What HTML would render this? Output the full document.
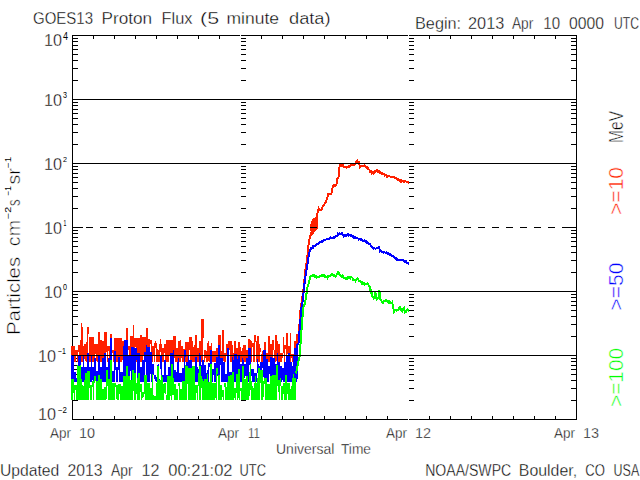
<!DOCTYPE html>
<html><head><meta charset="utf-8"><style>
html,body{margin:0;padding:0;background:#fff;width:640px;height:480px;overflow:hidden}
svg{display:block}
text{font-family:"Liberation Sans",sans-serif;stroke:#fff;stroke-width:0.35px;paint-order:normal}
text.sm{stroke:none}
text.lg{stroke-width:0.5px}
</style></head><body>
<svg width="640" height="480" viewBox="0 0 640 480">
<rect width="640" height="480" fill="#fff"/>
<g fill="none" stroke="#000" stroke-width="1" shape-rendering="crispEdges">
<path d="M72.5 35.5H576.5V419.5H72.5ZM72 400.5h6M577 400.5h-6M241 400.5h5M409 400.5h5M72 388.5h6M577 388.5h-6M241 388.5h5M409 388.5h5M72 380.5h6M577 380.5h-6M241 380.5h5M409 380.5h5M72 374.5h6M577 374.5h-6M241 374.5h5M409 374.5h5M72 369.5h6M577 369.5h-6M241 369.5h5M409 369.5h5M72 365.5h6M577 365.5h-6M241 365.5h5M409 365.5h5M72 361.5h6M577 361.5h-6M241 361.5h5M409 361.5h5M72 358.5h6M577 358.5h-6M241 358.5h5M409 358.5h5M72 336.5h6M577 336.5h-6M241 336.5h5M409 336.5h5M72 324.5h6M577 324.5h-6M241 324.5h5M409 324.5h5M72 316.5h6M577 316.5h-6M241 316.5h5M409 316.5h5M72 310.5h6M577 310.5h-6M241 310.5h5M409 310.5h5M72 305.5h6M577 305.5h-6M241 305.5h5M409 305.5h5M72 301.5h6M577 301.5h-6M241 301.5h5M409 301.5h5M72 297.5h6M577 297.5h-6M241 297.5h5M409 297.5h5M72 294.5h6M577 294.5h-6M241 294.5h5M409 294.5h5M72 272.5h6M577 272.5h-6M241 272.5h5M409 272.5h5M72 260.5h6M577 260.5h-6M241 260.5h5M409 260.5h5M72 252.5h6M577 252.5h-6M241 252.5h5M409 252.5h5M72 246.5h6M577 246.5h-6M241 246.5h5M409 246.5h5M72 241.5h6M577 241.5h-6M241 241.5h5M409 241.5h5M72 237.5h6M577 237.5h-6M241 237.5h5M409 237.5h5M72 233.5h6M577 233.5h-6M241 233.5h5M409 233.5h5M72 230.5h6M577 230.5h-6M241 230.5h5M409 230.5h5M72 208.5h6M577 208.5h-6M241 208.5h5M409 208.5h5M72 196.5h6M577 196.5h-6M241 196.5h5M409 196.5h5M72 188.5h6M577 188.5h-6M241 188.5h5M409 188.5h5M72 182.5h6M577 182.5h-6M241 182.5h5M409 182.5h5M72 177.5h6M577 177.5h-6M241 177.5h5M409 177.5h5M72 173.5h6M577 173.5h-6M241 173.5h5M409 173.5h5M72 169.5h6M577 169.5h-6M241 169.5h5M409 169.5h5M72 166.5h6M577 166.5h-6M241 166.5h5M409 166.5h5M72 144.5h6M577 144.5h-6M241 144.5h5M409 144.5h5M72 132.5h6M577 132.5h-6M241 132.5h5M409 132.5h5M72 124.5h6M577 124.5h-6M241 124.5h5M409 124.5h5M72 118.5h6M577 118.5h-6M241 118.5h5M409 118.5h5M72 113.5h6M577 113.5h-6M241 113.5h5M409 113.5h5M72 109.5h6M577 109.5h-6M241 109.5h5M409 109.5h5M72 105.5h6M577 105.5h-6M241 105.5h5M409 105.5h5M72 102.5h6M577 102.5h-6M241 102.5h5M409 102.5h5M72 80.5h6M577 80.5h-6M241 80.5h5M409 80.5h5M72 68.5h6M577 68.5h-6M241 68.5h5M409 68.5h5M72 60.5h6M577 60.5h-6M241 60.5h5M409 60.5h5M72 54.5h6M577 54.5h-6M241 54.5h5M409 54.5h5M72 49.5h6M577 49.5h-6M241 49.5h5M409 49.5h5M72 45.5h6M577 45.5h-6M241 45.5h5M409 45.5h5M72 41.5h6M577 41.5h-6M241 41.5h5M409 41.5h5M72 38.5h6M577 38.5h-6M241 38.5h5M409 38.5h5M72 227.5h11M577 227.5h-11M241 227.5h10M409 227.5h10M93.5 36v3M93.5 419v-3M114.5 36v3M114.5 419v-3M135.5 36v3M135.5 419v-3M156.5 36v3M156.5 419v-3M177.5 36v3M177.5 419v-3M198.5 36v3M198.5 419v-3M219.5 36v3M219.5 419v-3M261.5 36v3M261.5 419v-3M282.5 36v3M282.5 419v-3M303.5 36v3M303.5 419v-3M324.5 36v3M324.5 419v-3M345.5 36v3M345.5 419v-3M366.5 36v3M366.5 419v-3M387.5 36v3M387.5 419v-3M429.5 36v3M429.5 419v-3M450.5 36v3M450.5 419v-3M471.5 36v3M471.5 419v-3M492.5 36v3M492.5 419v-3M513.5 36v3M513.5 419v-3M534.5 36v3M534.5 419v-3M555.5 36v3M555.5 419v-3"/>
</g>
<g stroke="#fff" stroke-width="1" shape-rendering="crispEdges"><path d="M240.5 35v1M240.5 419v1M408.5 35v1M408.5 419v1"/></g>
<g fill="none" shape-rendering="crispEdges">
<path stroke="#ff2000" stroke-width="1" d="M71.5 346.0V358.0M72.5 346.0V362.0M73.5 346.0V359.4M74.5 346.0V362.0M75.5 350.0V362.0M76.5 350.0V356.1M77.5 350.0V362.0M78.5 345.0V351.6M79.5 345.0V362.0M80.5 340.0V362.0M81.5 323.0V362.0M82.5 326.7V362.0M83.5 345.7V361.4M84.5 344.0V359.4M85.5 344.0V361.0M86.5 342.0V362.0M87.5 327.0V362.0M88.5 327.0V334.2M89.5 337.0V362.0M90.5 337.0V362.0M91.5 337.0V361.4M92.5 337.0V362.0M93.5 337.0V362.0M94.5 344.0V362.0M95.5 344.0V354.4M96.5 344.0V360.9M97.5 344.0V362.0M98.5 332.0V362.0M99.5 332.0V362.0M100.5 340.0V362.0M101.5 340.0V362.0M102.5 340.6V362.0M103.5 340.6V362.0M104.5 332.0V362.0M105.5 332.0V362.0M106.5 332.0V352.4M107.5 346.0V362.0M108.5 346.0V351.4M109.5 346.0V362.0M110.5 334.0V362.0M111.5 334.0V362.0M112.5 350.0V353.3M113.5 350.0V362.0M114.5 338.0V362.0M115.5 338.0V362.0M116.5 338.0V362.0M117.5 338.0V362.0M118.5 338.0V362.0M119.5 338.0V362.0M120.5 338.0V362.0M121.5 338.0V362.0M122.5 341.0V359.9M123.5 341.0V346.2M124.5 341.0V362.0M125.5 341.0V362.0M126.5 328.0V341.2M127.5 328.0V362.0M128.5 346.0V350.1M129.5 346.0V362.0M130.5 336.0V362.0M131.5 336.0V362.0M132.5 336.0V362.0M133.5 325.0V362.0M134.5 338.0V362.0M135.5 338.0V346.6M136.5 338.0V362.0M137.5 338.0V362.0M138.5 338.0V362.0M139.5 338.0V362.0M140.5 335.0V362.0M141.5 335.0V362.0M142.5 337.0V362.0M143.5 337.0V355.6M144.5 337.0V353.7M145.5 337.0V362.0M146.5 328.0V362.0M147.5 328.0V362.0M148.5 339.0V362.0M149.5 339.0V362.0M150.5 339.6V344.3M151.5 339.6V362.0M152.5 345.5V362.0M153.5 345.5V355.9M154.5 343.0V362.0M155.5 341.0V347.8M156.5 343.3V362.0M157.5 349.0V362.0M158.5 350.4V362.0M159.5 343.7V362.0M160.5 339.0V352.0M161.5 344.0V358.6M162.5 347.6V362.0M163.5 347.6V362.0M164.5 344.0V353.2M165.5 344.0V362.0M166.5 340.0V362.0M167.5 340.0V362.0M168.5 340.0V362.0M169.5 340.0V354.9M170.5 340.0V362.0M171.5 340.0V362.0M172.5 340.0V362.0M173.5 336.0V362.0M174.5 336.0V358.1M175.5 336.0V362.0M176.5 347.5V362.0M177.5 347.5V362.0M178.5 340.5V358.8M179.5 340.5V362.0M180.5 340.0V362.0M181.5 346.0V357.5M182.5 346.0V362.0M183.5 349.0V362.0M184.5 349.0V352.3M185.5 342.0V362.0M186.5 342.0V362.0M187.5 342.0V362.0M188.5 342.0V362.0M189.5 337.0V349.5M190.5 337.0V362.0M191.5 337.0V362.0M192.5 340.5V362.0M193.5 347.3V362.0M194.5 345.0V362.0M195.5 335.0V362.0M196.5 335.0V362.0M197.5 347.5V362.0M198.5 347.5V362.0M199.5 340.6V360.6M200.5 340.6V362.0M201.5 319.0V362.0M202.5 319.0V362.0M203.5 319.0V337.5M204.5 350.0V362.0M205.5 350.0V357.8M206.5 351.0V362.0M207.5 342.5V362.0M208.5 340.6V361.2M209.5 346.0V362.0M210.5 346.0V362.0M211.5 342.5V362.0M212.5 351.0V362.0M213.5 351.0V362.0M214.5 351.0V362.0M215.5 351.0V362.0M216.5 348.3V357.6M217.5 348.3V362.0M218.5 335.0V362.0M219.5 335.0V362.0M220.5 335.0V362.0M221.5 351.0V362.0M222.5 329.7V362.0M223.5 329.7V361.0M224.5 353.4V362.0M225.5 353.4V362.0M226.5 343.7V356.2M227.5 343.7V362.0M228.5 340.6V354.1M229.5 340.6V350.0M230.5 340.6V362.0M231.5 340.6V362.0M232.5 345.4V362.0M233.5 352.6V362.0M234.5 341.2V362.0M235.5 341.2V362.0M236.5 347.5V362.0M237.5 347.5V362.0M238.5 342.0V362.0M239.5 342.0V355.3M240.5 347.1V362.0M241.5 351.1V362.0M242.5 347.7V362.0M243.5 345.3V362.0M244.5 345.0V362.0M245.5 345.0V362.0M246.5 350.0V362.0M247.5 350.0V362.0M248.5 339.4V362.0M249.5 339.4V362.0M250.5 339.8V362.0M251.5 341.4V362.0M252.5 342.6V347.0M253.5 342.6V362.0M254.5 335.0V362.0M255.5 335.0V342.2M256.5 341.0V362.0M257.5 336.0V362.0M258.5 336.0V362.0M259.5 344.0V362.0M260.5 348.2V351.6M261.5 353.5V362.0M262.5 351.0V362.0M263.5 351.0V359.5M264.5 342.0V359.6M265.5 342.0V362.0M266.5 352.5V362.0M267.5 352.5V360.4M268.5 336.0V362.0M269.5 336.0V362.0M270.5 344.0V362.0M271.5 344.0V362.0M272.5 340.0V362.0M273.5 340.0V350.4M274.5 350.0V362.0M275.5 335.0V362.0M276.5 335.0V360.5M277.5 341.0V362.0M278.5 344.0V362.0M279.5 344.0V362.0M280.5 352.5V362.0M281.5 352.5V362.0M282.5 352.5V357.7M283.5 337.0V352.6M284.5 345.0V362.0M285.5 345.0V348.8M286.5 333.0V362.0M287.5 333.0V354.0M288.5 346.0V361.1M289.5 346.0V362.0M290.5 332.5V362.0M291.5 354.0V357.5M292.5 354.0V362.0M293.5 354.0V362.0M294.5 341.0V362.0M295.5 341.0V362.0M296.5 334.0V362.0M297.5 334.0V362.0"/>
<path stroke="#ff2000" stroke-width="2" d="M298.33 339.99 298.92 332.57 299.50 324.35 300.08 315.71 300.67 308.30 301.25 304.32 301.83 300.60 302.42 296.80 303.00 292.16 303.58 288.15 304.17 282.84 304.75 275.43 305.33 270.74 305.92 266.45 306.50 263.37 307.08 259.39 307.67 253.06 308.25 247.45 308.83 242.95 309.42 239.55 310.00 237.00 310.58 234.98 310.80 234.00 317.00 217.00 317.00 228.00 311.00 235.00 316.50 217.00 317.00 215.39 317.58 212.88 318.17 209.88 318.75 208.17 319.33 208.97 319.92 209.71 320.50 210.49 321.08 210.49 321.67 209.24 322.25 207.57 322.83 206.44 323.42 205.18 324.00 204.90 324.58 203.60 325.17 202.81 325.75 201.94 326.33 200.63 326.92 198.81 327.50 197.42 328.08 194.08 328.67 193.75 329.25 193.74 329.83 194.35 330.42 194.15 331.00 194.23 331.58 192.50 332.17 189.54 332.75 187.13 333.33 185.59 333.92 185.21 334.50 185.56 335.08 185.21 335.67 185.66 336.25 185.16 336.83 182.04 337.42 178.69 338.00 178.20 338.58 176.78 339.17 169.28 339.75 165.44 340.33 165.02 340.92 164.84 341.50 164.60 342.08 165.94 342.67 166.37 343.25 165.70 343.83 166.97 344.42 167.36 345.00 167.45 345.58 167.45 346.17 167.29 346.75 167.80 347.33 167.11 347.92 167.48 348.50 166.42 349.08 166.72 349.67 166.31 350.25 165.26 350.83 164.97 351.42 165.46 352.00 165.35 352.58 165.18 353.17 164.97 353.75 165.28 354.33 165.37 354.92 163.73 355.50 163.87 356.08 162.08 356.67 162.09 357.25 160.86 357.83 162.06 358.42 162.00 359.00 162.01 359.58 164.94 360.17 167.13 360.75 166.77 361.33 166.11 361.92 165.70 362.50 165.85 363.08 166.22 363.67 165.88 364.25 165.20 364.83 166.33 365.42 166.29 366.00 167.03 366.58 166.69 367.17 168.14 367.75 167.85 368.33 169.31 368.92 169.38 369.50 169.92 370.08 171.44 370.67 170.97 371.25 172.15 371.83 173.22 372.42 172.46 373.00 172.29 373.58 173.12 374.17 172.29 374.75 172.33 375.33 171.00 375.92 171.09 376.50 170.46 377.08 170.89 377.67 170.44 378.25 172.03 378.83 171.10 379.42 172.45 380.00 171.83 380.58 172.40 381.17 173.42 381.75 172.75 382.33 173.03 382.92 173.98 383.50 173.95 384.08 173.88 384.67 175.62 385.25 174.87 385.83 175.12 386.42 175.97 387.00 176.76 387.58 176.94 388.17 176.06 388.75 176.37 389.33 175.94 389.92 176.53 390.50 176.97 391.08 176.94 391.67 177.16 392.25 176.96 392.83 177.11 393.42 177.11 394.00 177.10 394.58 177.07 395.17 177.99 395.75 177.83 396.33 177.88 396.92 178.70 397.50 179.65 398.08 178.95 398.67 179.93 399.25 180.01 399.83 180.52 400.42 180.22 401.00 181.52 401.58 180.71 402.17 181.36 402.75 181.26 403.33 180.86 403.92 181.78 404.50 181.36 405.08 181.38 405.67 181.38 406.25 181.60 406.83 181.54 407.42 182.32 408.00 182.18 408.58 182.88 409.17 182.84"/>
<path d="M310 226L312 219L316.5 217L317 229L311 235Z" fill="#ff2000"/>
<path stroke="#0000ff" stroke-width="1" d="M71.5 354.5V382.0M72.5 354.8V382.0M73.5 354.8V382.0M74.5 371.6V382.0M75.5 371.6V382.0M76.5 377.6V382.0M77.5 377.6V382.0M78.5 355.8V382.0M79.5 355.8V382.0M80.5 355.8V379.5M81.5 367.0V382.0M82.5 367.0V382.0M83.5 354.5V382.0M84.5 367.0V382.0M85.5 367.0V382.0M86.5 367.0V382.0M87.5 353.0V382.0M88.5 353.0V382.0M89.5 367.0V382.0M90.5 367.0V382.0M91.5 354.5V382.0M92.5 367.0V379.9M93.5 367.0V382.0M94.5 357.6V382.0M95.5 357.6V380.5M96.5 370.8V382.0M97.5 370.8V382.0M98.5 355.8V382.0M99.5 355.8V382.0M100.5 367.0V382.0M101.5 367.0V382.0M102.5 358.0V382.0M103.5 358.0V382.0M104.5 352.6V382.0M105.5 352.6V381.9M106.5 367.0V382.0M107.5 367.0V382.0M108.5 358.0V382.0M109.5 358.0V382.0M110.5 337.6V378.1M111.5 337.6V382.0M112.5 370.8V382.0M113.5 370.8V382.0M114.5 350.8V382.0M115.5 350.8V370.1M116.5 367.0V382.0M117.5 367.0V382.0M118.5 357.0V370.0M119.5 357.0V382.0M120.5 372.0V382.0M121.5 372.0V382.0M122.5 372.0V382.0M123.5 345.8V382.0M124.5 340.0V382.0M125.5 340.0V382.0M126.5 340.0V382.0M127.5 340.0V382.0M128.5 355.8V382.0M129.5 355.8V382.0M130.5 355.8V371.3M131.5 347.0V382.0M132.5 347.0V382.0M133.5 347.0V382.0M134.5 347.6V382.0M135.5 347.6V381.1M136.5 347.6V359.8M137.5 353.0V382.0M138.5 353.0V382.0M139.5 353.0V382.0M140.5 366.5V382.0M141.5 366.5V382.0M142.5 359.5V382.0M143.5 359.5V382.0M144.5 351.8V382.0M145.5 351.8V362.2M146.5 345.0V382.0M147.5 347.0V382.0M148.5 347.0V382.0M149.5 347.0V382.0M150.5 351.5V373.6M151.5 351.5V382.0M152.5 364.1V382.0M153.5 364.1V374.8M154.5 375.1V379.4M155.5 375.1V380.8M156.5 377.0V382.0M157.5 365.2V382.0M158.5 364.0V372.5M159.5 378.7V382.0M160.5 356.1V368.9M161.5 356.1V382.0M162.5 374.5V382.0M163.5 374.5V382.0M164.5 360.1V382.0M165.5 360.1V382.0M166.5 375.1V382.0M167.5 375.1V382.0M168.5 366.6V382.0M169.5 366.6V382.0M170.5 353.1V382.0M171.5 353.1V382.0M172.5 353.1V382.0M173.5 349.7V382.0M174.5 370.1V382.0M175.5 370.1V382.0M176.5 372.2V382.0M177.5 362.2V382.0M178.5 357.9V382.0M179.5 372.9V382.0M180.5 372.9V382.0M181.5 372.9V382.0M182.5 367.9V381.4M183.5 367.9V382.0M184.5 349.7V382.0M185.5 349.7V357.2M186.5 361.6V382.0M187.5 361.6V382.0M188.5 355.1V382.0M189.5 360.1V382.0M190.5 360.1V382.0M191.5 360.1V382.0M192.5 369.1V382.0M193.5 369.1V382.0M194.5 369.1V382.0M195.5 356.6V382.0M196.5 357.3V382.0M197.5 367.0V382.0M198.5 368.9V376.3M199.5 353.1V382.0M200.5 355.8V382.0M201.5 365.1V382.0M202.5 360.1V382.0M203.5 360.1V382.0M204.5 365.1V382.0M205.5 365.1V382.0M206.5 372.7V382.0M207.5 370.0V382.0M208.5 362.6V382.0M209.5 362.6V367.1M210.5 349.7V382.0M211.5 349.7V368.2M212.5 369.1V382.0M213.5 369.1V375.3M214.5 362.9V382.0M215.5 362.9V382.0M216.5 356.6V382.0M217.5 356.6V375.5M218.5 345.1V382.0M219.5 345.1V382.0M220.5 358.0V365.4M221.5 358.0V382.0M222.5 357.9V382.0M223.5 361.6V382.0M224.5 361.6V382.0M225.5 374.1V381.5M226.5 374.1V382.0M227.5 347.9V382.0M228.5 347.9V382.0M229.5 371.6V382.0M230.5 371.6V382.0M231.5 371.6V382.0M232.5 356.6V382.0M233.5 360.1V382.0M234.5 354.1V382.0M235.5 354.1V382.0M236.5 354.1V382.0M237.5 359.1V382.0M238.5 355.1V382.0M239.5 355.1V382.0M240.5 364.4V382.0M241.5 364.4V382.0M242.5 358.1V382.0M243.5 360.1V382.0M244.5 364.4V378.3M245.5 364.4V376.4M246.5 358.1V382.0M247.5 358.1V375.8M248.5 348.1V382.0M249.5 348.1V364.5M250.5 348.1V382.0M251.5 369.1V376.4M252.5 369.1V382.0M253.5 369.1V382.0M254.5 373.1V382.0M255.5 373.1V377.8M256.5 373.1V382.0M257.5 359.1V372.7M258.5 364.0V382.0M259.5 365.9V382.0M260.5 361.6V382.0M261.5 361.6V382.0M262.5 361.6V367.5M263.5 350.1V377.4M264.5 350.1V382.0M265.5 350.1V382.0M266.5 359.1V382.0M267.5 359.1V382.0M268.5 366.4V382.0M269.5 366.4V373.9M270.5 356.6V380.0M271.5 356.6V382.0M272.5 358.1V382.0M273.5 358.1V382.0M274.5 358.1V382.0M275.5 364.1V382.0M276.5 364.1V382.0M277.5 353.1V382.0M278.5 361.7V382.0M279.5 361.7V382.0M280.5 365.8V382.0M281.5 365.8V382.0M282.5 367.8V379.9M283.5 367.8V382.0M284.5 361.6V382.0M285.5 361.6V382.0M286.5 354.7V382.0M287.5 354.7V382.0M288.5 353.1V382.0M289.5 353.1V382.0M290.5 361.6V382.0M291.5 361.6V382.0M292.5 366.1V382.0M293.5 355.8V382.0M294.5 348.1V379.1M295.5 348.1V382.0M296.5 344.1V382.0M297.5 344.1V378.8"/>
<path stroke="#0000ff" stroke-width="2" d="M298.33 345.47 298.92 338.61 299.50 331.08 300.08 324.12 300.67 316.86 301.25 308.79 301.83 304.97 302.42 302.37 303.00 297.81 303.58 292.02 304.17 286.91 304.75 281.30 305.33 277.79 305.92 273.26 306.50 270.08 307.08 266.21 307.67 263.39 308.25 259.87 308.83 254.52 309.42 252.06 310.00 250.04 310.58 248.61 311.17 248.99 311.75 248.18 312.33 247.19 312.92 246.34 313.50 247.03 314.08 246.00 314.67 245.86 315.25 245.65 315.83 245.09 316.42 245.05 317.00 243.99 317.58 244.24 318.17 243.41 318.75 243.77 319.33 243.37 319.92 241.92 320.50 241.61 321.08 241.36 321.67 242.04 322.25 240.94 322.83 240.84 323.42 240.11 324.00 240.19 324.58 239.81 325.17 239.55 325.75 239.67 326.33 239.41 326.92 239.58 327.50 239.00 328.08 239.07 328.67 238.69 329.25 238.60 329.83 237.94 330.42 237.23 331.00 238.20 331.58 238.35 332.17 238.27 332.75 237.72 333.33 237.75 333.92 236.87 334.50 237.56 335.08 237.02 335.67 236.44 336.25 235.70 336.83 236.29 337.42 235.97 338.00 234.20 338.58 234.69 339.17 233.77 339.75 233.41 340.33 233.61 340.92 234.28 341.50 234.42 342.08 233.46 342.67 234.87 343.25 234.69 343.83 236.07 344.42 235.37 345.00 235.99 345.58 235.98 346.17 235.16 346.75 235.70 347.33 234.58 347.92 234.32 348.50 235.21 349.08 234.57 349.67 234.96 350.25 235.41 350.83 235.86 351.42 235.44 352.00 235.62 352.58 237.11 353.17 236.67 353.75 237.91 354.33 238.16 354.92 237.47 355.50 237.51 356.08 237.57 356.67 238.02 357.25 238.23 357.83 238.45 358.42 238.82 359.00 239.54 359.58 239.21 360.17 239.37 360.75 239.99 361.33 239.53 361.92 239.83 362.50 240.99 363.08 240.57 363.67 240.82 364.25 240.29 364.83 241.07 365.42 241.62 366.00 241.21 366.58 242.41 367.17 242.80 367.75 242.37 368.33 243.53 368.92 243.67 369.50 244.34 370.08 244.31 370.67 245.65 371.25 246.53 371.83 246.37 372.42 247.26 373.00 248.35 373.58 248.88 374.17 248.01 374.75 248.42 375.33 248.74 375.92 248.48 376.50 248.24 377.08 247.80 377.67 247.51 378.25 247.45 378.83 246.96 379.42 248.75 380.00 250.98 380.58 250.27 381.17 251.37 381.75 251.93 382.33 251.67 382.92 251.88 383.50 253.03 384.08 252.41 384.67 252.37 385.25 252.76 385.83 253.17 386.42 252.37 387.00 252.72 387.58 252.82 388.17 253.90 388.75 253.73 389.33 254.69 389.92 254.11 390.50 254.72 391.08 255.54 391.67 256.25 392.25 256.02 392.83 256.12 393.42 256.41 394.00 257.42 394.58 257.38 395.17 258.68 395.75 259.16 396.33 258.68 396.92 259.25 397.50 260.43 398.08 260.20 398.67 260.43 399.25 259.78 399.83 259.48 400.42 259.71 401.00 260.41 401.58 259.68 402.17 259.78 402.75 260.01 403.33 260.30 403.92 260.58 404.50 261.59 405.08 260.81 405.67 260.89 406.25 262.50 406.83 262.70 407.42 263.14 408.00 262.66 408.58 263.67 409.17 263.93"/>
<path stroke="#00ff00" stroke-width="1" d="M71.5 378.8V400.0M72.5 378.8V400.0M73.5 378.8V393.0M74.5 385.0V400.0M75.5 385.0V390.4M76.5 385.0V400.0M77.5 365.0V400.0M78.5 366.2V400.0M79.5 366.2V400.0M80.5 365.0V400.0M81.5 378.8V400.0M82.5 385.1V400.0M83.5 386.0V400.0M84.5 380.0V400.0M85.5 372.5V400.0M86.5 372.5V400.0M87.5 371.0V400.0M88.5 371.0V400.0M89.5 371.0V387.5M90.5 385.0V400.0M91.5 385.0V400.0M92.5 381.0V387.4M93.5 381.0V400.0M94.5 376.0V382.7M95.5 376.0V381.2M96.5 381.3V400.0M97.5 380.5V400.0M98.5 375.0V400.0M99.5 375.0V400.0M100.5 378.8V400.0M101.5 378.8V400.0M102.5 388.5V400.0M103.5 388.5V400.0M104.5 387.1V400.0M105.5 387.1V400.0M106.5 370.0V399.4M107.5 370.0V385.6M108.5 379.4V400.0M109.5 379.4V400.0M110.5 360.0V400.0M111.5 360.0V400.0M112.5 382.5V400.0M113.5 382.5V400.0M114.5 382.5V400.0M115.5 382.5V387.0M116.5 385.0V399.2M117.5 385.0V400.0M118.5 384.4V400.0M119.5 384.4V394.3M120.5 383.8V400.0M121.5 386.0V400.0M122.5 386.0V400.0M123.5 376.0V400.0M124.5 376.0V400.0M125.5 376.0V400.0M126.5 366.0V400.0M127.5 366.0V400.0M128.5 376.0V400.0M129.5 376.0V400.0M130.5 379.8V400.0M131.5 379.8V400.0M132.5 370.0V400.0M133.5 370.0V390.9M134.5 372.5V400.0M135.5 372.5V400.0M136.5 382.6V393.9M137.5 377.9V400.0M138.5 372.6V400.0M139.5 372.6V400.0M140.5 383.8V391.9M141.5 383.8V400.0M142.5 391.5V398.0M143.5 391.5V396.5M144.5 375.0V393.9M145.5 375.0V400.0M146.5 375.0V400.0M147.5 382.5V400.0M148.5 382.5V400.0M149.5 382.5V400.0M150.5 388.3V400.0M151.5 388.3V400.0M152.5 373.8V400.0M153.5 395.0V400.0M154.5 395.5V400.0M155.5 395.5V400.0M156.5 382.5V400.0M157.5 365.6V400.0M158.5 365.6V400.0M159.5 380.0V400.0M160.5 380.0V400.0M161.5 375.0V400.0M162.5 377.1V400.0M163.5 383.9V400.0M164.5 382.5V392.5M165.5 382.5V393.9M166.5 395.0V400.0M167.5 376.0V400.0M168.5 376.0V400.0M169.5 376.0V400.0M170.5 376.0V396.2M171.5 363.8V400.0M172.5 363.8V395.1M173.5 377.5V395.2M174.5 383.8V400.0M175.5 383.8V400.0M176.5 389.3V400.0M177.5 388.5V399.8M178.5 382.5V386.2M179.5 382.5V400.0M180.5 389.1V400.0M181.5 389.1V400.0M182.5 381.0V400.0M183.5 381.0V400.0M184.5 381.0V400.0M185.5 365.0V400.0M186.5 366.3V400.0M187.5 366.3V384.0M188.5 367.5V400.0M189.5 367.5V400.0M190.5 367.5V400.0M191.5 367.5V400.0M192.5 365.6V400.0M193.5 365.6V400.0M194.5 365.6V400.0M195.5 385.0V400.0M196.5 385.0V392.6M197.5 385.0V400.0M198.5 372.5V386.4M199.5 365.6V400.0M200.5 365.6V400.0M201.5 376.0V388.4M202.5 378.9V400.0M203.5 381.3V400.0M204.5 378.8V400.0M205.5 378.8V400.0M206.5 378.8V400.0M207.5 373.8V400.0M208.5 382.0V400.0M209.5 382.0V400.0M210.5 364.0V400.0M211.5 364.0V400.0M212.5 382.5V400.0M213.5 382.5V400.0M214.5 382.5V400.0M215.5 382.5V397.8M216.5 367.5V400.0M217.5 367.5V374.1M218.5 375.0V400.0M219.5 375.0V400.0M220.5 385.0V400.0M221.5 385.0V400.0M222.5 390.3V396.9M223.5 390.3V400.0M224.5 382.5V386.9M225.5 382.5V400.0M226.5 386.7V400.0M227.5 381.9V400.0M228.5 376.0V400.0M229.5 376.0V400.0M230.5 374.9V400.0M231.5 374.9V400.0M232.5 371.7V400.0M233.5 371.7V400.0M234.5 387.9V398.0M235.5 387.9V400.0M236.5 374.0V393.4M237.5 374.0V400.0M238.5 369.0V398.0M239.5 369.0V400.0M240.5 388.0V391.4M241.5 388.0V400.0M242.5 366.0V400.0M243.5 366.0V400.0M244.5 379.0V400.0M245.5 379.0V400.0M246.5 376.0V400.0M247.5 376.0V400.0M248.5 382.8V400.0M249.5 372.2V395.9M250.5 364.3V390.1M251.5 380.7V399.6M252.5 385.5V400.0M253.5 387.8V400.0M254.5 382.5V400.0M255.5 376.0V400.0M256.5 383.3V400.0M257.5 377.5V400.0M258.5 367.5V400.0M259.5 367.5V400.0M260.5 370.0V383.4M261.5 370.0V400.0M262.5 370.0V400.0M263.5 381.0V397.0M264.5 377.5V384.3M265.5 377.5V400.0M266.5 377.5V400.0M267.5 384.0V400.0M268.5 384.0V400.0M269.5 384.0V400.0M270.5 376.0V400.0M271.5 376.0V400.0M272.5 375.0V400.0M273.5 375.0V400.0M274.5 375.0V400.0M275.5 375.0V400.0M276.5 365.0V400.0M277.5 365.0V385.8M278.5 380.0V391.9M279.5 380.0V400.0M280.5 377.5V386.3M281.5 386.0V400.0M282.5 386.0V400.0M283.5 382.5V393.7M284.5 382.8V400.0M285.5 375.4V400.0M286.5 375.0V400.0M287.5 382.5V393.9M288.5 382.5V400.0M289.5 382.5V400.0M290.5 388.6V400.0M291.5 385.5V400.0M292.5 377.5V400.0M293.5 374.0V400.0M294.5 378.3V400.0M295.5 378.3V400.0"/>
<path stroke="#00ff00" stroke-width="2" d="M296.00 373.58 296.58 370.45 297.17 368.00 297.75 364.70 298.33 361.64 298.92 359.26 299.50 357.17 300.08 350.05 300.67 342.22 301.25 333.59 301.83 326.32 302.42 318.14 303.00 310.21 303.58 306.95 304.17 304.93 304.75 303.88 305.33 301.53 305.92 298.05 306.50 293.56 307.08 288.75 307.67 286.50 308.25 284.63 308.83 282.55 309.42 280.48 310.00 277.61 310.58 275.87 311.17 276.24 311.75 275.87 312.33 275.14 312.92 274.65 313.50 275.36 314.08 274.98 314.67 276.56 315.25 276.68 315.83 276.41 316.42 276.25 317.00 277.45 317.58 277.09 318.17 277.43 318.75 277.21 319.33 276.50 319.92 276.19 320.50 276.32 321.08 275.89 321.67 275.29 322.25 275.36 322.83 276.19 323.42 275.13 324.00 275.29 324.58 276.39 325.17 276.00 325.75 276.57 326.33 276.63 326.92 276.59 327.50 277.80 328.08 276.21 328.67 276.25 329.25 275.61 329.83 276.00 330.42 275.13 331.00 274.95 331.58 275.27 332.17 274.29 332.75 274.75 333.33 275.91 333.92 275.23 334.50 275.78 335.08 276.46 335.67 276.54 336.25 275.52 336.83 274.14 337.42 273.51 338.00 272.48 338.58 273.52 339.17 273.44 339.75 275.07 340.33 275.80 340.92 276.19 341.50 276.14 342.08 276.79 342.67 275.58 343.25 276.31 343.83 277.73 344.42 278.01 345.00 278.01 345.58 279.44 346.17 279.51 346.75 279.15 347.33 277.42 347.92 277.01 348.50 277.41 349.08 276.92 349.67 277.31 350.25 278.24 350.83 277.23 351.42 277.04 352.00 277.55 352.58 278.20 353.17 279.63 353.75 279.41 354.33 279.75 354.92 279.89 355.50 280.91 356.08 279.48 356.67 278.59 357.25 278.31 357.83 278.91 358.42 279.71 359.00 281.13 359.58 280.90 360.17 281.25 360.75 282.26 361.33 282.16 361.92 283.64 362.50 282.53 363.08 283.47 363.67 284.15 364.25 283.68 364.83 284.70 365.42 283.97 366.00 283.68 366.58 284.04 367.17 283.53 367.75 284.24 368.33 284.31 368.92 285.87 369.50 286.32 370.08 287.06 370.67 292.00 371.25 291.11 371.83 293.25 372.42 296.67 373.00 296.90 373.58 298.12 374.17 297.15 374.75 297.20 375.33 291.35 375.92 296.27 376.50 298.78 377.08 297.84 377.67 298.64 378.25 298.25 378.83 298.47 379.42 290.06 380.00 298.74 380.58 298.97 381.17 300.04 381.75 301.97 382.33 302.89 382.92 302.81 383.50 301.35 384.08 301.35 384.67 301.06 385.25 300.29 385.83 300.05 386.42 299.91 387.00 300.77 387.58 301.48 388.17 301.47 388.75 303.18 389.33 303.31 389.92 301.97 390.50 303.49 391.08 303.55 391.67 303.16 392.25 302.24 392.83 305.77 393.42 308.27 394.00 311.68 394.58 311.05 395.17 309.92 395.75 309.93 396.33 310.53 396.92 310.27 397.50 310.39 398.08 310.10 398.67 308.38 399.25 307.46 399.83 308.34 400.42 307.45 401.00 309.85 401.58 309.66 402.17 311.11 402.75 309.70 403.33 308.48 403.92 307.79 404.50 311.17 405.08 312.38 405.67 312.14 406.25 310.60 406.83 310.51 407.42 309.33 408.00 309.64 408.58 310.82 409.17 311.12"/>
</g>
<g fill="none" stroke="#000" stroke-width="1" shape-rendering="crispEdges">
<path d="M72 99.5H577M72 163.5H577M72 291.5H577M72 355.5H577"/>
<path d="M72 227.5h7M86 227.5h7M100 227.5h7M114 227.5h7M128 227.5h7M142 227.5h7M156 227.5h7M170 227.5h7M184 227.5h7M198 227.5h7M212 227.5h7M226 227.5h7M240 227.5h7M254 227.5h7M268 227.5h7M282 227.5h7M296 227.5h7M310 227.5h7M324 227.5h7M338 227.5h7M352 227.5h7M366 227.5h7M380 227.5h7M394 227.5h7M408 227.5h7M422 227.5h7M436 227.5h7M450 227.5h7M464 227.5h7M478 227.5h7M492 227.5h7M506 227.5h7M520 227.5h7M534 227.5h7M548 227.5h7M562 227.5h7"/>
</g>
<text x="33.00" y="24.00" font-size="16.76" textLength="60.00" lengthAdjust="spacingAndGlyphs">GOES13</text>
<text x="101.50" y="24.00" font-size="16.76" textLength="50.58" lengthAdjust="spacingAndGlyphs">Proton</text>
<text x="161.50" y="24.00" font-size="16.76" textLength="31.03" lengthAdjust="spacingAndGlyphs">Flux</text>
<text x="200.00" y="24.00" font-size="16.76" textLength="19.06" lengthAdjust="spacingAndGlyphs">(5</text>
<text x="226.50" y="24.00" font-size="16.76" textLength="52.52" lengthAdjust="spacingAndGlyphs">minute</text>
<text x="289.00" y="24.00" font-size="16.76" textLength="41.53" lengthAdjust="spacingAndGlyphs">data)</text>
<text x="415.00" y="29.00" font-size="15.75" textLength="46.10" lengthAdjust="spacingAndGlyphs">Begin:</text>
<text x="468.00" y="29.00" font-size="15.75" textLength="36.27" lengthAdjust="spacingAndGlyphs">2013</text>
<text x="512.00" y="29.00" font-size="15.75" textLength="21.28" lengthAdjust="spacingAndGlyphs">Apr</text>
<text x="543.25" y="29.00" font-size="15.75" textLength="16.79" lengthAdjust="spacingAndGlyphs">10</text>
<text x="569.00" y="29.00" font-size="15.75" textLength="35.00" lengthAdjust="spacingAndGlyphs">0000</text>
<text x="614.00" y="29.00" font-size="15.75" textLength="25.00" lengthAdjust="spacingAndGlyphs">UTC</text>
<text x="0.00" y="476.00" font-size="16.76" textLength="59.30" lengthAdjust="spacingAndGlyphs">Updated</text>
<text x="67.50" y="476.00" font-size="16.76" textLength="35.09" lengthAdjust="spacingAndGlyphs">2013</text>
<text x="111.00" y="476.00" font-size="16.76" textLength="21.53" lengthAdjust="spacingAndGlyphs">Apr</text>
<text x="141.50" y="476.00" font-size="16.76" textLength="17.97" lengthAdjust="spacingAndGlyphs">12</text>
<text x="168.25" y="476.00" font-size="16.76" textLength="64.26" lengthAdjust="spacingAndGlyphs">00:21:02</text>
<text x="239.50" y="476.00" font-size="16.76" textLength="26.55" lengthAdjust="spacingAndGlyphs">UTC</text>
<text x="425.20" y="476.00" font-size="16.76" textLength="86.02" lengthAdjust="spacingAndGlyphs">NOAA/SWPC</text>
<text x="518.80" y="476.00" font-size="16.76" textLength="58.26" lengthAdjust="spacingAndGlyphs">Boulder,</text>
<text x="585.20" y="476.00" font-size="16.76" textLength="19.71" lengthAdjust="spacingAndGlyphs">CO</text>
<text x="613.60" y="476.00" font-size="16.76" textLength="25.66" lengthAdjust="spacingAndGlyphs">USA</text>
<text x="50.00" y="438.00" font-size="13.97" textLength="21.00" lengthAdjust="spacingAndGlyphs">Apr</text>
<text x="79.00" y="438.00" font-size="13.97" textLength="16.07" lengthAdjust="spacingAndGlyphs">10</text>
<text x="218.00" y="438.00" font-size="13.97" textLength="21.00" lengthAdjust="spacingAndGlyphs">Apr</text>
<text x="248.00" y="438.00" font-size="13.97" textLength="12.00" lengthAdjust="spacingAndGlyphs">11</text>
<text x="386.00" y="438.00" font-size="13.97" textLength="21.00" lengthAdjust="spacingAndGlyphs">Apr</text>
<text x="415.00" y="438.00" font-size="13.97" textLength="16.07" lengthAdjust="spacingAndGlyphs">12</text>
<text x="554.00" y="438.00" font-size="13.97" textLength="21.00" lengthAdjust="spacingAndGlyphs">Apr</text>
<text x="583.00" y="438.00" font-size="13.97" textLength="16.07" lengthAdjust="spacingAndGlyphs">13</text>
<text x="276.00" y="454.00" font-size="14.39" textLength="58.31" lengthAdjust="spacingAndGlyphs">Universal</text>
<text x="341.00" y="454.00" font-size="14.39" textLength="30.00" lengthAdjust="spacingAndGlyphs">Time</text>
<text x="44.00" y="46.00" font-size="16.76" textLength="18.06" lengthAdjust="spacingAndGlyphs">10</text>
<text x="63.00" y="40.00" font-size="10.40" textLength="5.00" lengthAdjust="spacingAndGlyphs" class="sm">4</text>
<text x="44.00" y="106.00" font-size="16.76" textLength="18.06" lengthAdjust="spacingAndGlyphs">10</text>
<text x="63.00" y="98.00" font-size="8.38" textLength="4.00" lengthAdjust="spacingAndGlyphs" class="sm">3</text>
<text x="44.00" y="170.00" font-size="16.76" textLength="18.06" lengthAdjust="spacingAndGlyphs">10</text>
<text x="63.00" y="162.00" font-size="6.98" textLength="4.00" lengthAdjust="spacingAndGlyphs" class="sm">2</text>
<text x="44.00" y="234.00" font-size="16.76" textLength="18.06" lengthAdjust="spacingAndGlyphs">10</text>
<text x="63.50" y="226.00" font-size="8.38" textLength="2.83" lengthAdjust="spacingAndGlyphs" class="sm">1</text>
<text x="44.00" y="298.00" font-size="16.76" textLength="18.06" lengthAdjust="spacingAndGlyphs">10</text>
<text x="63.00" y="290.00" font-size="8.38" textLength="4.00" lengthAdjust="spacingAndGlyphs" class="sm">0</text>
<text x="38.00" y="362.00" font-size="16.76" textLength="18.06" lengthAdjust="spacingAndGlyphs">10</text>
<text x="58.00" y="354.00" font-size="8.38" textLength="8.00" lengthAdjust="spacingAndGlyphs" class="sm">−1</text>
<text x="38.00" y="420.00" font-size="16.76" textLength="18.06" lengthAdjust="spacingAndGlyphs">10</text>
<text x="58.00" y="413.00" font-size="8.38" textLength="9.00" lengthAdjust="spacingAndGlyphs" class="sm">−2</text>
<text transform="rotate(-90)" x="-335.00" y="20.00" font-size="18.16" textLength="78.12" lengthAdjust="spacingAndGlyphs" class="lg">Particles</text>
<text transform="rotate(-90)" x="-246.20" y="20.00" font-size="18.16" textLength="26.21" lengthAdjust="spacingAndGlyphs" class="lg">cm</text>
<text transform="rotate(-90)" x="-219.00" y="11.00" font-size="8.38" textLength="12.32" lengthAdjust="spacingAndGlyphs" class="sm">−2</text>
<text transform="rotate(-90)" x="-206.00" y="20.00" font-size="18.16" textLength="6.65" lengthAdjust="spacingAndGlyphs" class="lg">s</text>
<text transform="rotate(-90)" x="-195.60" y="11.00" font-size="8.38" textLength="9.32" lengthAdjust="spacingAndGlyphs" class="sm">−1</text>
<text transform="rotate(-90)" x="-184.50" y="20.00" font-size="18.16" textLength="16.30" lengthAdjust="spacingAndGlyphs" class="lg">sr</text>
<text transform="rotate(-90)" x="-168.00" y="11.00" font-size="8.38" textLength="11.11" lengthAdjust="spacingAndGlyphs" class="sm">−1</text>
<text transform="rotate(-90)" x="-215.00" y="623.00" font-size="19.55" textLength="48.09" lengthAdjust="spacingAndGlyphs" fill="#ff2000" class="lg">&gt;=10</text>
<text transform="rotate(-90)" x="-143.00" y="623.00" font-size="19.55" textLength="32.03" lengthAdjust="spacingAndGlyphs" class="lg">MeV</text>
<text transform="rotate(-90)" x="-310.70" y="623.00" font-size="19.55" textLength="48.16" lengthAdjust="spacingAndGlyphs" fill="#0000ff" class="lg">&gt;=50</text>
<text transform="rotate(-90)" x="-407.00" y="623.00" font-size="19.55" textLength="59.07" lengthAdjust="spacingAndGlyphs" fill="#00ff00" class="lg">&gt;=100</text>
</svg>
</body></html>
